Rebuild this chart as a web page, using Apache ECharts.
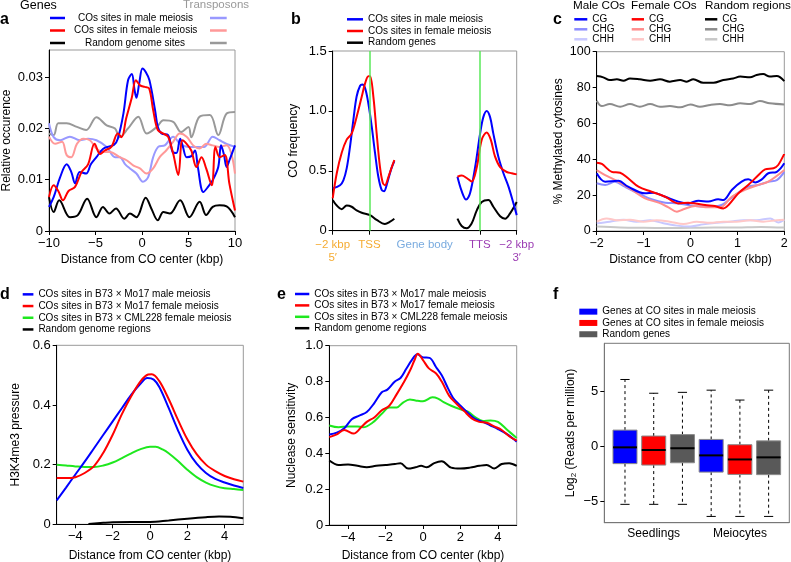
<!DOCTYPE html>
<html><head><meta charset="utf-8">
<script src="https://cdn.jsdelivr.net/npm/echarts@6/dist/echarts.min.js"></script>
<style>html,body{margin:0;padding:0;background:#fff}#c{width:791px;height:562px}</style>
</head><body><div id="c"></div>
<script>
// ---------- Panel a ----------
const aYTicks = [0, 0.01, 0.02, 0.03];
const aGeneMale = [[-10,0.0047],[-9.5,0.0066],[-8.8,0.0105],[-8.1,0.013],[-7.6,0.0115],[-7.2,0.0093],[-6.7,0.0115],[-6.0,0.0112],[-5.5,0.013],[-4.9,0.0144],[-4.2,0.016],[-3.5,0.0165],[-3.0,0.0168],[-2.6,0.018],[-2.0,0.0229],[-1.5,0.0294],[-1.1,0.0306],[-0.8,0.0275],[-0.6,0.026],[-0.3,0.0288],[0.05,0.0317],[0.4,0.031],[0.8,0.0294],[1.4,0.0236],[1.7,0.0203],[2.1,0.019],[2.8,0.0187],[3.3,0.0154],[3.7,0.0152],[4.1,0.018],[4.4,0.0164],[4.8,0.0144],[5.3,0.0146],[5.7,0.0157],[6.0,0.0125],[6.6,0.0076],[7.1,0.0086],[7.6,0.0099],[8.2,0.0125],[8.5,0.0167],[8.8,0.015],[9.1,0.0125],[9.4,0.0138],[10,0.0167]];
const aGeneFemale = [[-10,0.0066],[-9.5,0.0089],[-9.0,0.0078],[-8.5,0.006],[-7.9,0.0078],[-7.2,0.0086],[-6.5,0.0115],[-5.8,0.013],[-5.1,0.017],[-4.5,0.015],[-4.0,0.0157],[-3.3,0.0164],[-2.6,0.019],[-2.2,0.0183],[-1.7,0.022],[-1.1,0.026],[-0.66,0.0294],[-0.2,0.0284],[0.3,0.0281],[0.77,0.0278],[1.2,0.0236],[1.7,0.0197],[2.3,0.019],[2.8,0.0184],[3.35,0.0151],[3.9,0.0109],[4.35,0.0177],[4.8,0.017],[5.3,0.0157],[5.85,0.0125],[6.4,0.0144],[6.9,0.0122],[7.5,0.0089],[7.9,0.0164],[8.35,0.0144],[8.9,0.0148],[9.4,0.0092],[10,0.004]];
const aGeneRandom = [[-10,0.0066],[-9.5,0.0037],[-8.9,0.006],[-7.75,0.0027],[-6.9,0.0031],[-5.9,0.0063],[-4.9,0.0027],[-4.2,0.0047],[-3.5,0.0034],[-2.8,0.0044],[-1.9,0.0024],[-1.3,0.0034],[-0.6,0.0027],[0.4,0.0065],[1.0,0.0044],[1.7,0.0021],[2.3,0.0037],[3.0,0.0034],[4.1,0.006],[5.1,0.0027],[6.2,0.0057],[6.9,0.0031],[7.6,0.0047],[8.35,0.005],[9.1,0.0048],[10,0.0027]];
const aTeMale = [[-10,0.021],[-9.5,0.0183],[-8.8,0.0177],[-7.75,0.0184],[-6.7,0.0177],[-5.8,0.018],[-4.9,0.0177],[-3.8,0.0164],[-2.9,0.0144],[-2.4,0.0144],[-1.8,0.013],[-1.3,0.0122],[-0.6,0.0112],[0.1,0.0096],[0.66,0.0105],[1.2,0.0144],[1.74,0.0164],[2.45,0.0167],[3.35,0.0184],[4.1,0.017],[4.96,0.0164],[5.85,0.0164],[6.7,0.0164],[7.6,0.0184],[8.35,0.0177],[9.1,0.017],[10,0.0164]];
const aTeFemale = [[-10,0.0184],[-9.35,0.017],[-8.6,0.0174],[-8.1,0.0148],[-7.6,0.0144],[-7.0,0.017],[-6.3,0.018],[-5.6,0.0177],[-4.9,0.0161],[-4.2,0.0154],[-3.45,0.0154],[-2.4,0.0144],[-1.66,0.0138],[-0.95,0.0128],[-0.23,0.0122],[0.48,0.0112],[1.2,0.0122],[1.9,0.0144],[2.6,0.0157],[3.35,0.0174],[4.06,0.019],[4.8,0.0184],[5.5,0.0167],[6.2,0.0161],[6.9,0.017],[7.6,0.0167],[8.35,0.0164],[9.1,0.0167],[9.6,0.0151],[10,0.0112]];
const aTeRandom = [[-10,0.019],[-9.5,0.0187],[-9.0,0.021],[-8.1,0.021],[-7.0,0.0203],[-6.0,0.0197],[-4.9,0.0222],[-3.8,0.0206],[-2.9,0.02],[-2.4,0.0183],[-1.5,0.02],[-0.4,0.0223],[0.5,0.019],[1.6,0.0203],[2.3,0.0216],[3.35,0.0213],[4.2,0.0193],[5.0,0.0203],[5.3,0.0183],[6.2,0.0223],[7.3,0.0226],[8.2,0.0187],[9.1,0.0229],[10,0.0232]];

// ---------- Panel b (x: 0 = -2 kbp, 20 = TSS, 80 = TTS, 100 = +2 kbp) ----------
const bLabelPos = [0, 20, 50, 80, 100];
const bTickPos = [0, 20, 80, 100];
const bTickLabels = ['−2 kbp\n5′', 'TSS', 'Gene body', 'TTS', '−2 kbp\n3′'];
const bLabelStyle = ['o', 'o', 'g', 'p', 'p'];
const bMarkers = [20, 80];
const bMale5 = [[0,0.353],[4,0.38],[5.8,0.42],[7.6,0.52],[9.4,0.70],[11.2,0.92],[13,1.12],[14.9,1.21],[16.1,1.22],[17.6,1.19],[19.4,1.06],[21.2,0.87],[23,0.65],[24.8,0.45],[26.6,0.34],[27.9,0.33],[29.3,0.38],[31.7,0.51],[33.5,0.58]];
const bFemale5 = [[0,0.27],[2.2,0.48],[4.9,0.65],[7.6,0.76],[10.3,0.81],[13,0.95],[15.8,1.12],[17.6,1.23],[19.4,1.29],[20.3,1.29],[22.1,1.12],[23.9,0.81],[25.7,0.53],[27.2,0.40],[28.4,0.38],[30.3,0.45],[32.1,0.53],[33.5,0.59]];
const bRandom5 = [[0,0.256],[2.2,0.21],[4.9,0.18],[7.6,0.21],[10.3,0.20],[13,0.17],[15.8,0.15],[20.3,0.13],[23.9,0.09],[28.4,0.056],[31.2,0.075],[33.5,0.10]];
const bMale3 = [[67.8,0.45],[70.1,0.33],[72.5,0.26],[74.6,0.31],[77.4,0.53],[80.1,0.81],[81.9,0.95],[83.7,1.0],[85.5,0.95],[87.3,0.81],[90,0.62],[92.8,0.48],[95.5,0.37],[98.2,0.23],[100,0.13]];
const bFemale3 = [[67.8,0.45],[70.1,0.46],[72.8,0.44],[75.5,0.41],[78.3,0.53],[81,0.76],[83.7,0.82],[85.9,0.76],[88.2,0.62],[91,0.53],[94.6,0.49],[97.3,0.48],[100,0.47]];
const bRandom3 = [[67.8,0.10],[70.1,0.039],[72.8,0.02],[75.5,0.06],[78.3,0.17],[81,0.24],[84.6,0.256],[87.3,0.2],[91,0.12],[93.7,0.10],[96.4,0.145],[100,0.24]];

// ---------- Panel c ----------
const cMaleCG = [[-2,32.2],[-1.82,27.5],[-1.54,28],[-1.33,24.7],[-0.97,21],[-0.79,21.4],[-0.54,19.1],[-0.26,16.4],[-0.05,15.4],[0.17,16.9],[0.38,16.4],[0.59,17.7],[0.7,17.3],[0.88,22.9],[1.09,27.5],[1.23,28.8],[1.38,27.1],[1.52,28.8],[1.66,32.2],[1.84,33],[2,37.8]];
const cMaleCHG = [[-2,26.6],[-1.82,25.7],[-1.61,27.5],[-1.4,24.7],[-1.11,21],[-0.83,17.7],[-0.54,15.8],[-0.26,15.4],[0.1,13.9],[0.38,13.6],[0.66,14.5],[0.95,20.1],[1.23,24.7],[1.45,25.7],[1.66,27.5],[1.84,28.4],[2,33]];
const cMaleCHH = [[-2,4.3],[-1.72,5.2],[-1.43,6.3],[-1.15,5.2],[-0.86,6],[-0.58,4.3],[-0.29,3],[0,2.5],[0.27,3.7],[0.56,4.6],[0.84,5.2],[1.13,6],[1.41,6],[1.7,7],[1.87,4.8],[2,6.3]];
const cFemaleCG = [[-2,38.1],[-1.89,37.4],[-1.68,33],[-1.5,32.5],[-1.33,29.4],[-1.11,24.7],[-0.83,21.9],[-0.54,19.1],[-0.26,15.4],[-0.05,15.8],[0.1,15.4],[0.31,14.5],[0.52,13.9],[0.7,12.6],[0.81,14.5],[1.02,21],[1.23,25.6],[1.45,31.2],[1.59,34.4],[1.77,35],[1.87,36.8],[2,43]];
const cFemaleCHG = [[-2,34],[-1.82,31.2],[-1.54,27.5],[-1.25,22.9],[-0.97,18.2],[-0.68,15.8],[-0.47,13.2],[-0.29,10.8],[-0.15,12.1],[0.1,13.9],[0.38,13.2],[0.63,13.2],[0.88,19.1],[1.16,22.9],[1.45,25.7],[1.66,27.5],[2,34]];
const cFemaleCHH = [[-2,5.2],[-1.79,7],[-1.57,6],[-1.29,6.3],[-1.0,5.2],[-0.72,6],[-0.44,5.2],[-0.15,3.9],[0.13,5.2],[0.42,4.6],[0.7,5.2],[0.98,5.2],[1.27,6],[1.55,5.2],[1.84,6],[2,6.3]];
const cRandomCG = [[-2,86.4],[-1.86,85.7],[-1.72,84.2],[-1.57,84.6],[-1.43,83.8],[-1.29,85.1],[-1.08,84.6],[-0.86,83.8],[-0.65,84.6],[-0.44,83.3],[-0.22,84.2],[-0.08,83.3],[0.06,84.6],[0.27,82.7],[0.49,82.7],[0.7,84.2],[0.91,85.1],[1.06,86.1],[1.27,85.7],[1.41,87],[1.55,87.5],[1.69,86.1],[1.84,86.4],[2,83.6]];
const cRandomCHG = [[-2,72.7],[-1.89,69.7],[-1.72,70.8],[-1.5,69.3],[-1.29,70.8],[-1.08,69.3],[-0.86,70.8],[-0.65,69.3],[-0.44,69.7],[-0.22,69],[0,70.6],[0.2,69.3],[0.42,70.3],[0.63,70.8],[0.84,70.1],[1.06,71.2],[1.27,70.8],[1.48,72.5],[1.69,71.2],[2,70.6]];
const cRandomCHH = [[-2,2.5],[-1.5,2.0],[-1,1.8],[-0.5,1.7],[0,1.8],[0.5,1.9],[1,2.0],[1.5,2.3],[2,1.9]];

// ---------- Panel d ----------
const dxTicks = [-4, -2, 0, 2, 4];
const dMale = [[-5,0.08],[-4.5,0.123],[-4,0.167],[-3.5,0.21],[-3,0.255],[-2.5,0.3],[-2,0.345],[-1.5,0.39],[-1,0.435],[-0.5,0.472],[-0.15,0.49],[0.2,0.485],[0.5,0.46],[1,0.39],[1.5,0.315],[2,0.25],[2.5,0.203],[3,0.172],[3.5,0.152],[4,0.14],[4.5,0.13],[5,0.122]];
const dFemale = [[-5,0.155],[-4.5,0.155],[-4,0.158],[-3.5,0.172],[-3,0.195],[-2.5,0.24],[-2,0.3],[-1.5,0.37],[-1,0.43],[-0.5,0.48],[-0.1,0.502],[0.1,0.503],[0.5,0.48],[1,0.42],[1.5,0.35],[2,0.285],[2.5,0.235],[3,0.2],[3.5,0.178],[4,0.162],[4.5,0.151],[5,0.143]];
const dCml = [[-5,0.2],[-4.5,0.197],[-4,0.194],[-3.5,0.192],[-3,0.192],[-2.5,0.197],[-2,0.207],[-1.5,0.222],[-1,0.238],[-0.5,0.252],[0,0.26],[0.3,0.26],[0.7,0.25],[1,0.238],[1.5,0.212],[2,0.183],[2.5,0.158],[3,0.14],[3.5,0.128],[4,0.121],[4.5,0.118],[5,0.115]];
const dRandom = [[-3.3,0.001],[-2.5,0.005],[-2,0.007],[-1,0.008],[0,0.008],[1,0.013],[2,0.019],[3,0.024],[3.7,0.026],[4.3,0.025],[5,0.02]];

// ---------- Panel e ----------
const eMale = [[-5,0.505],[-4.6,0.515],[-4.2,0.54],[-3.8,0.59],[-3.4,0.61],[-3,0.63],[-2.6,0.68],[-2.2,0.74],[-1.9,0.755],[-1.5,0.8],[-1.2,0.82],[-0.9,0.87],[-0.6,0.92],[-0.3,0.952],[0,0.935],[0.35,0.932],[0.7,0.88],[1,0.835],[1.3,0.77],[1.6,0.71],[2,0.665],[2.4,0.625],[2.8,0.59],[3.2,0.575],[3.6,0.555],[4,0.535],[4.5,0.505],[5,0.465]];
const eFemale = [[-5,0.49],[-4.6,0.505],[-4.2,0.53],[-3.7,0.51],[-3.3,0.545],[-3,0.575],[-2.6,0.6],[-2.2,0.64],[-1.8,0.665],[-1.4,0.73],[-1,0.8],[-0.7,0.86],[-0.45,0.92],[-0.28,0.955],[0,0.92],[0.3,0.875],[0.7,0.845],[1,0.8],[1.4,0.72],[1.8,0.675],[2.2,0.635],[2.6,0.595],[3,0.575],[3.4,0.57],[3.8,0.55],[4.2,0.53],[4.6,0.495],[5,0.47]];
const eCml = [[-5,0.555],[-4.5,0.545],[-4,0.55],[-3.5,0.55],[-3.2,0.545],[-2.7,0.57],[-2.2,0.62],[-1.8,0.655],[-1.4,0.655],[-1.1,0.68],[-0.7,0.7],[-0.4,0.695],[0,0.69],[0.5,0.712],[0.8,0.705],[1.1,0.685],[1.5,0.665],[2,0.645],[2.4,0.632],[2.8,0.6],[3.2,0.58],[3.6,0.583],[4,0.575],[4.5,0.53],[5,0.485]];
const eRandom = [[-5,0.36],[-4.5,0.335],[-4,0.337],[-3.5,0.33],[-3,0.322],[-2.5,0.33],[-2,0.335],[-1.5,0.34],[-1.2,0.345],[-0.8,0.315],[-0.4,0.322],[-0.1,0.33],[0.2,0.322],[0.6,0.345],[1,0.355],[1.5,0.32],[2,0.315],[2.5,0.32],[3,0.33],[3.4,0.335],[3.8,0.315],[4.2,0.34],[4.6,0.345],[5,0.33]];

// ---------- Panel f (per category: [low whisker, Q1, median, Q3, high whisker]) ----------
const fCategories = ['Seedlings', 'Meiocytes'];
const fYTicks = [-5, 0, 5];
const fMale = [[-5.3,-1.6,-0.12,1.45,6.05], [-6.4,-2.37,-0.85,0.6,5.08]];
const fFemale = [[-5.3,-1.73,-0.36,0.91,4.8], [-6.4,-2.58,-1.22,0.12,4.18]];
const fRandom = [[-5.3,-1.52,-0.2,1.04,4.88], [-6.4,-2.6,-1.03,0.47,5.08]];

// ---------- helpers ----------
const F = 'Liberation Sans, Arial, Helvetica, sans-serif';
const BLUE = '#0000ff', RED = '#ff0000', BLACK = '#000000', GREEN = '#1ee81e';
function deep(a, b) {
  const o = Object.assign({}, a);
  for (const k in b) {
    const v = b[k];
    if (v && typeof v === 'object' && !Array.isArray(v) && a[k] && typeof a[k] === 'object' && !Array.isArray(a[k])) o[k] = deep(a[k], v);
    else o[k] = v;
  }
  return o;
}
function fmt(d) { return v => (Math.abs(v) < 1e-9 ? '0' : v.toFixed(d)).replace('-', '−'); }
const AX = {
  type: 'value', nameLocation: 'middle',
  axisLine: { show: true, onZero: false, lineStyle: { color: '#000', width: 1 } },
  axisTick: { show: true, inside: false, length: 4, lineStyle: { color: '#000', width: 1 } },
  axisLabel: { color: '#000', fontSize: 13, fontFamily: F, margin: 6 },
  splitLine: { show: false },
  nameTextStyle: { color: '#000', fontSize: 12, fontFamily: F }
};
function ln(name, data, color, i, w) {
  return { type: 'line', name, data, xAxisIndex: i, yAxisIndex: i, symbol: 'none', showSymbol: false,
    smooth: 0.35, lineStyle: { color, width: w || 2 }, itemStyle: { color }, silent: true,
    emphasis: { disabled: true }, z: 3 };
}
const G = { show: true, borderColor: '#999', borderWidth: 1, backgroundColor: 'transparent', containLabel: false, outerBoundsMode: 'none' };
const grids = [
  deep(G, { left: 49, top: 50, width: 186, height: 181 }),
  deep(G, { left: 332.7, top: 51, width: 184, height: 179.7 }),
  deep(G, { left: 596.7, top: 51.7, width: 187.6, height: 179.3 }),
  deep(G, { left: 56.7, top: 345.3, width: 186.6, height: 179 }),
  deep(G, { left: 329.3, top: 345.7, width: 187.4, height: 179.3 }),
  deep(G, { left: 604.3, top: 343.3, width: 185, height: 179.4, borderColor: '#777' })
];
const XNAME = 'Distance from CO center (kbp)';
const xAxes = [
  deep(AX, { gridIndex: 0, min: -10, max: 10, interval: 5, name: XNAME, nameGap: 23, axisLabel: { formatter: fmt(0) } }),
  deep(AX, { gridIndex: 1, min: 0, max: 100,
    axisTick: { customValues: bTickPos },
    axisLabel: { customValues: bLabelPos, margin: 8,
      formatter: v => { let i = 0; bLabelPos.forEach((p, k) => { if (Math.abs(p - v) < Math.abs(bLabelPos[i] - v)) i = k; });
        return bTickLabels[i].split('\n').map(s => '{' + bLabelStyle[i] + '|' + s + '}').join('\n'); },
      rich: { o: { color: '#f5ac33', fontSize: 11.5, lineHeight: 12.6, fontFamily: F },
              g: { color: '#79abdf', fontSize: 11.5, lineHeight: 12.6, fontFamily: F },
              p: { color: '#9c3db3', fontSize: 11.5, lineHeight: 12.6, fontFamily: F } } } }),
  deep(AX, { gridIndex: 2, min: -2, max: 2, interval: 1, name: XNAME, nameGap: 23, axisLabel: { fontSize: 12.5, formatter: fmt(0) } }),
  deep(AX, { gridIndex: 3, min: -5, max: 5, name: XNAME, nameGap: 25, axisTick: { customValues: dxTicks }, axisLabel: { customValues: dxTicks, formatter: fmt(0) } }),
  deep(AX, { gridIndex: 4, min: -5, max: 5, name: XNAME, nameGap: 25, axisTick: { customValues: dxTicks }, axisLabel: { customValues: dxTicks, formatter: fmt(0) } }),
  deep(AX, { gridIndex: 5, min: 0.28, max: 6.72, axisLine: { lineStyle: { color: '#777' } }, axisTick: { show: false },
    axisLabel: { customValues: [2, 5], fontSize: 12, margin: 5, formatter: v => fCategories[v < 3.5 ? 0 : 1] } })
];
const yAxes = [
  deep(AX, { gridIndex: 0, min: 0, max: 0.0353, name: 'Relative occurence', nameGap: 36,
    axisTick: { customValues: aYTicks }, axisLabel: { customValues: aYTicks, formatter: fmt(2) } }),
  deep(AX, { gridIndex: 1, min: 0, max: 1.5, interval: 0.5, name: 'CO frequency', nameGap: 33, axisLabel: { formatter: fmt(1) } }),
  deep(AX, { gridIndex: 2, min: 0, max: 100, interval: 20, name: '% Methylated cytosines', nameGap: 32, axisLabel: { fontSize: 12.5, formatter: fmt(0) } }),
  deep(AX, { gridIndex: 3, min: 0, max: 0.6, interval: 0.2, name: 'H3K4me3 pressure', nameGap: 35, axisLabel: { formatter: fmt(1) } }),
  deep(AX, { gridIndex: 4, min: 0, max: 1, interval: 0.2, name: 'Nuclease sensitivity', nameGap: 32, axisLabel: { formatter: fmt(1) } }),
  deep(AX, { gridIndex: 5, min: -6.97, max: 9.34, name: 'Log{s|2} (Reads per million)', nameGap: 27,
    nameTextStyle: { lineHeight: 14, rich: { s: { fontSize: 8, fontFamily: F, color: '#000', verticalAlign: 'bottom', lineHeight: 14, padding: [6, 0, 0, 0] } } },
    axisLine: { lineStyle: { color: '#777' } },
    axisTick: { customValues: fYTicks }, axisLabel: { customValues: fYTicks, formatter: fmt(0) } })
];

// ---------- box renderer ----------
function boxRender(params, api) {
  const x = api.value(0);
  const lo = api.value(1), q1 = api.value(2), md = api.value(3), q3 = api.value(4), hi = api.value(5);
  const unit = api.size([1, 0])[0];
  const hw = unit * 0.418, cw = unit * 0.16;
  const pLo = api.coord([x, lo]), pQ1 = api.coord([x, q1]), pMd = api.coord([x, md]), pQ3 = api.coord([x, q3]), pHi = api.coord([x, hi]);
  const cx = pMd[0];
  const color = api.visual('color');
  return { type: 'group', children: [
    { type: 'line', shape: { x1: cx, y1: pQ3[1], x2: cx, y2: pHi[1] }, style: { stroke: '#000', lineWidth: 1, lineDash: [3, 3] } },
    { type: 'line', shape: { x1: cx, y1: pQ1[1], x2: cx, y2: pLo[1] }, style: { stroke: '#000', lineWidth: 1, lineDash: [3, 3] } },
    { type: 'line', shape: { x1: cx - cw, y1: pHi[1], x2: cx + cw, y2: pHi[1] }, style: { stroke: '#000', lineWidth: 1 } },
    { type: 'line', shape: { x1: cx - cw, y1: pLo[1], x2: cx + cw, y2: pLo[1] }, style: { stroke: '#000', lineWidth: 1 } },
    { type: 'rect', shape: { x: cx - hw, y: pQ3[1], width: 2 * hw, height: pQ1[1] - pQ3[1] }, style: { fill: color, stroke: '#8a8a8a', lineWidth: 1 } },
    { type: 'line', shape: { x1: cx - hw, y1: pMd[1], x2: cx + hw, y2: pMd[1] }, style: { stroke: '#000', lineWidth: 2 } }
  ] };
}
function boxSeries(name, rows, color, g) {
  return { type: 'custom', name, xAxisIndex: 5, yAxisIndex: 5, renderItem: boxRender, silent: true,
    itemStyle: { color }, encode: { x: 0, y: [1, 2, 3, 4, 5] },
    data: rows.map((r, i) => [i * 3 + g + 1].concat(r)) };
}

// ---------- series ----------
const N_M = 'COs sites in male meiosis', N_F = 'COs sites in female meiosis';
const D_M = 'COs sites in B73 × Mo17 male meiosis', D_F = 'COs sites in B73 × Mo17 female meiosis',
      D_C = 'COs sites in B73 × CML228 female meiosis', D_R = 'Random genome regions';
const bMaleA = ln(N_M, bMale5, BLUE, 1);
bMaleA.markLine = { silent: true, symbol: ['none', 'none'], label: { show: false }, animation: false,
  lineStyle: { color: '#5ae85a', width: 1.5, type: 'solid' }, emphasis: { disabled: true },
  data: bMarkers.map(v => ({ xAxis: v })) };
const series = [
  ln('TE random', aTeRandom, '#999999', 0), ln('TE male', aTeMale, '#9999ff', 0), ln('TE female', aTeFemale, '#ff9999', 0),
  ln('Random genome sites', aGeneRandom, BLACK, 0), ln(N_M, aGeneMale, BLUE, 0), ln(N_F, aGeneFemale, RED, 0),
  ln('Random genes', bRandom5, BLACK, 1), ln('Random genes', bRandom3, BLACK, 1),
  bMaleA, ln(N_M, bMale3, BLUE, 1), ln(N_F, bFemale5, RED, 1), ln(N_F, bFemale3, RED, 1),
  ln('Random CHH', cRandomCHH, '#c8c8c8', 2), ln('Male CHH', cMaleCHH, '#c8c8ff', 2), ln('Female CHH', cFemaleCHH, '#ffc8c8', 2),
  ln('Random CHG', cRandomCHG, '#8c8c8c', 2), ln('Male CHG', cMaleCHG, '#8c8cff', 2), ln('Female CHG', cFemaleCHG, '#ff8c8c', 2),
  ln('Random CG', cRandomCG, BLACK, 2), ln('Male CG', cMaleCG, BLUE, 2), ln('Female CG', cFemaleCG, RED, 2),
  ln(D_R, dRandom, BLACK, 3), ln(D_C, dCml, GREEN, 3), ln(D_M, dMale, BLUE, 3), ln(D_F, dFemale, RED, 3),
  ln(D_R, eRandom, BLACK, 4), ln(D_C, eCml, GREEN, 4), ln(D_M, eMale, BLUE, 4), ln(D_F, eFemale, RED, 4),
  boxSeries('Genes at CO sites in male meiosis', fMale, '#0000ff', 0),
  boxSeries('Genes at CO sites in female meiosis', fFemale, '#ff0000', 1),
  boxSeries('Random genes ', fRandom, '#595959', 2)
];

// ---------- legends ----------
const LB = { orient: 'vertical', icon: 'rect', itemGap: 0, padding: 0, selectedMode: false, itemHeight: 2.5,
  textStyle: { color: '#000', fontFamily: F, fontSize: 10 } };
const stripPrefix = n => n.replace(/^(Male|Female|Random) /, '');
const legends = [
  deep(LB, { left: 50, top: 11.75, itemWidth: 15, textStyle: { lineHeight: 12.5 },
    data: [{ name: N_M, textStyle: { padding: [0, 0, 0, 8] } }, { name: N_F, textStyle: { padding: [0, 0, 0, 4] } },
           { name: 'Random genome sites', textStyle: { padding: [0, 0, 0, 15] } }] }),
  deep(LB, { left: 210, top: 11.75, itemWidth: 16.7, textStyle: { lineHeight: 12.5 }, formatter: () => ' ',
    data: ['TE male', 'TE female', 'TE random'] }),
  deep(LB, { left: 347, top: 13.45, itemWidth: 16, textStyle: { lineHeight: 11.7 },
    data: [N_M, N_F, 'Random genes'] }),
  deep(LB, { left: 574.3, top: 14.3, itemWidth: 13, textStyle: { lineHeight: 10 }, formatter: stripPrefix,
    data: ['Male CG', 'Male CHG', 'Male CHH'] }),
  deep(LB, { left: 631.7, top: 14.3, itemWidth: 12.3, textStyle: { lineHeight: 10 }, formatter: stripPrefix,
    data: ['Female CG', 'Female CHG', 'Female CHH'] }),
  deep(LB, { left: 705, top: 14.3, itemWidth: 12.3, textStyle: { lineHeight: 10 }, formatter: stripPrefix,
    data: ['Random CG', 'Random CHG', 'Random CHH'] }),
  deep(LB, { left: 22.7, top: 288.5, itemWidth: 10.7, textStyle: { lineHeight: 11.7 }, data: [D_M, D_F, D_C, D_R] }),
  deep(LB, { left: 295, top: 288.3, itemWidth: 14.3, textStyle: { lineHeight: 11.4 }, data: [D_M, D_F, D_C, D_R] }),
  deep(LB, { left: 579.3, top: 306, itemWidth: 18, itemHeight: 6, textStyle: { lineHeight: 11.3 },
    formatter: n => n.trim(),
    data: ['Genes at CO sites in male meiosis', 'Genes at CO sites in female meiosis', 'Random genes '] })
];

// ---------- titles ----------
function T(text, left, top, size, bold, color) {
  return { text, left, top, padding: 0, textStyle: { fontFamily: F, fontSize: size, fontWeight: bold ? 'bold' : 'normal', color: color || '#000' } };
}
const titles = [
  T('a', 0, 12, 16, true), T('b', 291, 12, 16, true), T('c', 553, 12, 16, true),
  T('d', 0, 287, 16, true), T('e', 277, 287, 16, true), T('f', 553, 287, 16, true),
  T('Genes', 20, -1, 12.5), T('Transposons', 183, -1, 11.5, false, '#999999'),
  T('Male COs', 573, 0, 11.7), T('Female COs', 631, 0, 11.7), T('Random regions', 705, 0, 11.7)
];

const chart = echarts.init(document.getElementById('c'), null, { renderer: 'canvas' });
chart.setOption({
  animation: false, backgroundColor: '#fff', textStyle: { fontFamily: F },
  title: titles, legend: legends, grid: grids, xAxis: xAxes, yAxis: yAxes, series
});
</script></body></html>
